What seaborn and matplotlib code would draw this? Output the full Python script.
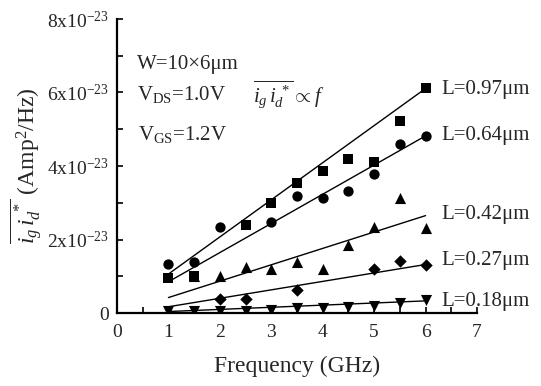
import matplotlib
matplotlib.use("Agg")
import matplotlib.pyplot as plt
import seaborn as sns
import pandas as pd
import numpy as np

# ---------------- data (values in units of 1e-23 Amp^2/Hz) ----------------
SCALE = 1e-23
f_097 = [1, 1.5, 2.5, 3, 3.5, 4, 4.5, 5, 5.5, 6]
y_097 = [0.95, 1.0, 2.39, 2.99, 3.55, 3.87, 4.18, 4.10, 5.23, 6.11]
f_064 = [1, 1.5, 2, 3, 3.5, 4, 4.5, 5, 5.5, 6]
y_064 = [1.33, 1.39, 2.34, 2.47, 3.18, 3.13, 3.32, 3.78, 4.59, 4.82]
f_042 = [1.5, 2, 2.5, 3, 3.5, 4, 4.5, 5, 5.5, 6]
y_042 = [1.0, 1.0, 1.26, 1.19, 1.39, 1.19, 1.85, 2.33, 3.12, 2.30]
f_027 = [2, 2.5, 3.5, 5, 5.5, 6]
y_027 = [0.38, 0.38, 0.63, 1.19, 1.42, 1.30]
f_018 = [1, 1.5, 2, 2.5, 3, 3.5, 4, 4.5, 5, 5.5, 6]
y_018 = [0.06, 0.06, 0.06, 0.06, 0.08, 0.13, 0.13, 0.17, 0.19, 0.28, 0.35]

# linear-fit lines: value at f=1 and f=6
fit_f = [1, 6]
fit_097 = [1.06, 6.11]
fit_064 = [0.85, 4.82]
fit_042 = [0.42, 2.65]
fit_027 = [0.17, 1.32]
fit_018 = [0.04, 0.33]

labels = ["L=0.97\u03bcm", "L=0.64\u03bcm", "L=0.42\u03bcm", "L=0.27\u03bcm", "L=0.18\u03bcm"]
label_y = [5.97, 4.72, 2.57, 1.30, 0.19]

xticks = [0, 1, 2, 3, 4, 5, 6, 7]
yticks = [0, 2, 4, 6, 8]
ytick_labels = ["0", r"$2\mathrm{x}10^{-23}$", r"$4\mathrm{x}10^{-23}$",
                r"$6\mathrm{x}10^{-23}$", r"$8\mathrm{x}10^{-23}$"]

# ---------------- style ----------------
sns.set_theme(style="ticks")
plt.rcParams["font.family"] = ["Liberation Serif", "DejaVu Serif"]
plt.rcParams["mathtext.fontset"] = "custom"
plt.rcParams["mathtext.rm"] = "Liberation Serif"
plt.rcParams["mathtext.it"] = "Liberation Serif:italic"
plt.rcParams["mathtext.bf"] = "Liberation Serif:bold"

fig = plt.figure(figsize=(5.41, 3.86), dpi=100)
ax = fig.add_axes([117 / 541, 1 - 313 / 386, 360 / 541, 294 / 386])

series = [
    (f_097, y_097, fit_097, "s", 42),
    (f_064, y_064, fit_064, "o", 55),
    (f_042, y_042, fit_042, "^", 64),
    (f_027, y_027, fit_027, "D", 40),
    (f_018, y_018, fit_018, "v", 64),
]

for fx, fy, fit, mk, s in series:
    line_df = pd.DataFrame({"f": fit_f, "v": np.array(fit) * SCALE})
    sns.lineplot(data=line_df, x="f", y="v", ax=ax, color="black", lw=1.0)
    df = pd.DataFrame({"f": fx, "v": np.array(fy) * SCALE})
    sns.scatterplot(data=df, x="f", y="v", ax=ax, marker=mk, s=s,
                    color="black", edgecolor="black", linewidth=0, zorder=3)

ax.set_xlim(0, 7)
ax.set_ylim(0, 8 * SCALE)
ax.set_xticks(xticks)
ax.set_xticklabels([str(t) for t in xticks], fontsize=14)
ax.set_xticks(np.arange(0.5, 7, 1.0), minor=True)
ax.set_yticks(np.array(yticks) * SCALE)
ax.set_yticklabels(ytick_labels, fontsize=14)
ax.set_yticks(np.array([1, 3, 5, 7]) * SCALE, minor=True)
ax.tick_params(axis="both", which="both", direction="in", length=4, width=1.2,
               color="black")
ax.tick_params(axis="x", which="major", pad=8)
ax.tick_params(axis="y", which="major", pad=6)
sns.despine(ax=ax)
for sp in ["left", "bottom"]:
    ax.spines[sp].set_linewidth(1.6)
    ax.spines[sp].set_color("black")

ax.set_xlabel("Frequency (GHz)", fontsize=17)
ax.xaxis.set_label_coords(0.5, -0.145)
ax.set_ylabel(r"$\overline{i_g\,i_d^{\ *}}$ (Amp$^2$/Hz)", fontsize=17)
ax.yaxis.set_label_coords(-0.20, 0.5)

# annotations
ax.text(0.39, 6.65 * SCALE, "W=10\u00d76\u03bcm", fontsize=15, va="baseline")
ax.text(0.39, 5.79 * SCALE, r"V$_{\mathrm{DS}}$=1.0V", fontsize=15, va="baseline")
ax.text(0.40, 4.70 * SCALE, r"V$_{\mathrm{GS}}$=1.2V", fontsize=15, va="baseline")
ax.text(2.64, 5.71 * SCALE, r"$\overline{i_g\, i_d^{\ *}}\propto f$", fontsize=15,
        va="baseline")

for lab, ly in zip(labels, label_y):
    ax.text(6.30, ly * SCALE, lab, fontsize=15, va="baseline", clip_on=False)

fig.savefig("out.png", dpi=100)
